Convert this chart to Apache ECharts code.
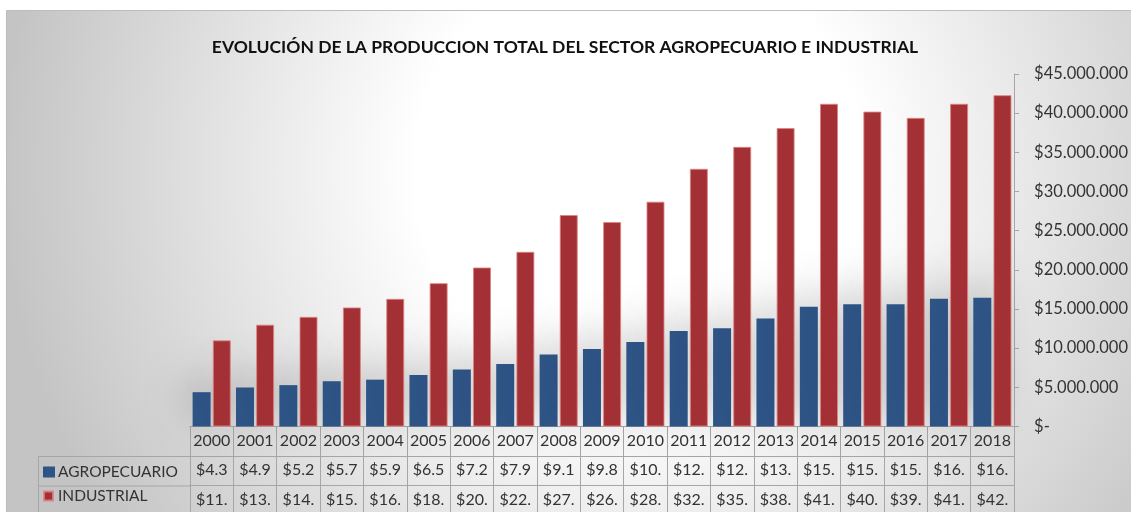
<!DOCTYPE html>
<html>
<head>
<meta charset="utf-8">
<script src="https://cdn.jsdelivr.net/npm/echarts@6/dist/echarts.min.js"></script>
<style>
  html, body { margin: 0; padding: 0; background: #fff; }
  #main { width: 1131px; height: 512px; }
</style>
</head>
<body>
<div id="main"></div>
<script>
// datos (pesos)
var years = ['2000', '2001', '2002', '2003', '2004', '2005', '2006', '2007', '2008', '2009',
             '2010', '2011', '2012', '2013', '2014', '2015', '2016', '2017', '2018'];
var agropecuario = [4380000, 4980000, 5280000, 5780000, 5980000, 6580000, 7280000, 7980000, 9180000, 9880000,
                    10800000, 12200000, 12550000, 13800000, 15300000, 15600000, 15600000, 16300000, 16450000];
var industrial = [11000000, 13000000, 14000000, 15200000, 16300000, 18300000, 20300000, 22300000, 27000000, 26100000,
                  28700000, 32900000, 35700000, 38100000, 41200000, 40200000, 39400000, 41200000, 42300000];
var yTicks = [0, 45000000, 5000000]; // min, max, intervalo

var FONT = 'Lato';
var LINE = '#a6a6a6';
var TXT = '#333333';

function fmtPeso(v) {
    return '$' + String(Math.round(v)).replace(/\B(?=(\d{3})+(?!\d))/g, '.');
}
// la tabla de Excel corta el texto en celdas angostas
function celda(v) {
    return fmtPeso(v).slice(0, 4);
}

var myChart = echarts.init(document.getElementById('main'));

function tablaEje(labels, offset) {
    return {
        type: 'category',
        position: 'bottom',
        offset: offset,
        data: labels,
        gridIndex: 0,
        axisLine: { show: true, lineStyle: { color: LINE, width: 1 } },
        axisTick: { show: true, length: 30, lineStyle: { color: LINE, width: 1 } },
        axisLabel: { margin: 6, color: TXT, fontFamily: FONT, fontSize: 16, interval: 0 },
        splitLine: { show: false }
    };
}

var option = {
    backgroundColor: '#ffffff',
    animation: false,
    title: {
        text: 'EVOLUCIÓN DE LA PRODUCCION TOTAL DEL SECTOR AGROPECUARIO E INDUSTRIAL',
        left: 560,
        textAlign: 'center',
        top: 33,
        textStyle: { fontFamily: FONT, fontWeight: 'bold', fontSize: 17.5, color: '#111111' }
    },
    graphic: [
        { // fondo con degradado
            type: 'rect', z: -100, silent: true,
            shape: { x: 6.5, y: 10.5, width: 1130, height: 510 },
            style: {
                stroke: '#bdbdbd', lineWidth: 1,
                fill: {
                    type: 'radial', global: true, x: 640, y: 170, r: 640,
                    colorStops: [
                        { offset: 0, color: '#ffffff' },
                        { offset: 0.35, color: '#ffffff' },
                        { offset: 1, color: '#c4c4c4' }
                    ]
                }
            }
        },
        // bordes de las celdas de leyenda
        { type: 'line', z: 5, silent: true, shape: { x1: 38, y1: 456.5, x2: 190, y2: 456.5 }, style: { stroke: LINE, lineWidth: 1 } },
        { type: 'line', z: 5, silent: true, shape: { x1: 38, y1: 486, x2: 190, y2: 486 }, style: { stroke: LINE, lineWidth: 1 } },
        { type: 'line', z: 5, silent: true, shape: { x1: 38.5, y1: 456.5, x2: 38.5, y2: 520 }, style: { stroke: LINE, lineWidth: 1 } }
    ],
    legend: [{
        data: ['AGROPECUARIO'],
        left: 43, top: 464,
        icon: 'rect', itemWidth: 12, itemHeight: 11,
        textStyle: { fontFamily: FONT, fontSize: 15.5, color: TXT, padding: [0, 0, 0, -2] },
        padding: 0, selectedMode: false
    }, {
        data: ['INDUSTRIAL'],
        left: 43, top: 488,
        icon: 'rect', itemWidth: 9, itemHeight: 9,
        textStyle: { fontFamily: FONT, fontSize: 15.5, color: TXT },
        padding: 0, selectedMode: false
    }],
    grid: { left: 190, right: 109, top: 74, bottom: 85.5, containLabel: false },
    xAxis: [
        tablaEje(years, 0),
        tablaEje(agropecuario.map(celda), 29.5),
        tablaEje(industrial.map(celda), 59)
    ],
    yAxis: {
        type: 'value',
        position: 'right',
        min: yTicks[0], max: yTicks[1], interval: yTicks[2],
        axisLine: { show: true, lineStyle: { color: LINE, width: 1 } },
        axisTick: { show: true, length: 5, lineStyle: { color: LINE } },
        splitLine: { show: false },
        axisLabel: {
            margin: 20, color: TXT, fontFamily: FONT, fontSize: 16.5,
            formatter: function (v) { return v === 0 ? '$-' : fmtPeso(v); }
        }
    },
    series: [{
        name: 'AGROPECUARIO',
        type: 'bar',
        xAxisIndex: 0,
        data: agropecuario,
        barWidth: 18,
        barGap: '12%',
        itemStyle: {
            color: '#2e5486',
            shadowBlur: 40, shadowOffsetY: -12, shadowColor: 'rgba(0,0,0,0.35)'
        }
    }, {
        name: 'INDUSTRIAL',
        type: 'bar',
        xAxisIndex: 0,
        data: industrial,
        barWidth: 18,
        itemStyle: {
            color: '#a33034',
            borderColor: 'rgba(222,130,130,0.85)', borderWidth: 1
        }
    }]
};

myChart.setOption(option);
</script>
</body>
</html>
